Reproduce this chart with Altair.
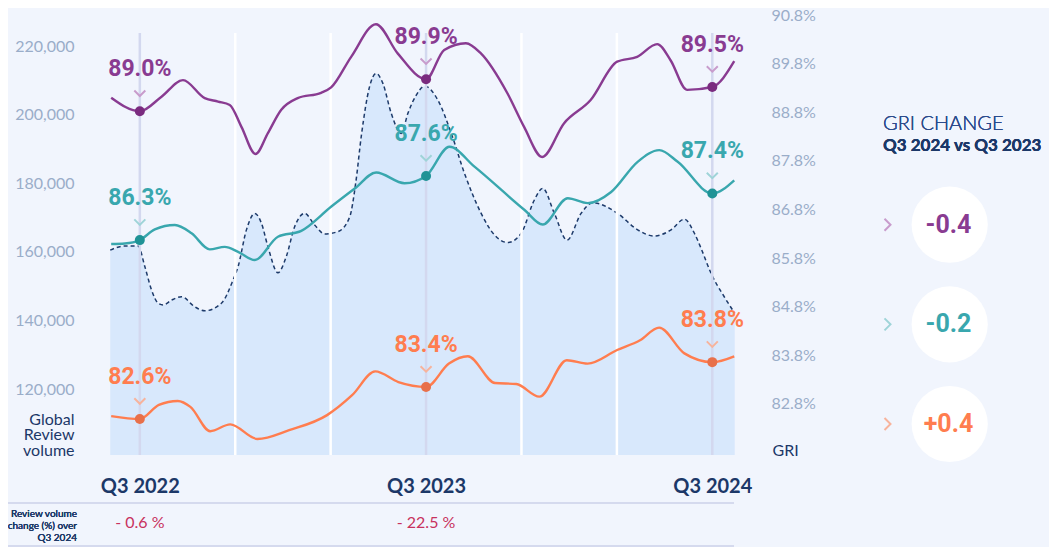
import altair as alt
import pandas as pd

# ---------------- data ----------------
SERIES = ["Segment A", "Segment B", "Segment C"]

# month index: 0 = Q3 2022, 12 = Q3 2023, 24 = Q3 2024
A_M = [-1.2, 0, 0.91, 1.81, 2.72, 3.28, 3.77, 4.26, 4.85, 5.37, 5.93, 6.62, 7.60, 8.02, 8.86, 9.90,
       10.81, 12, 12.76, 13.67, 14.30, 15.41, 16.11, 16.87, 17.78, 18.90, 20.01, 20.85, 21.69, 22.25,
       22.94, 24, 24.92]
A_GRI = [89.10, 88.82, 89.12, 89.46, 89.09, 89.02, 88.95, 88.50, 87.94, 88.37, 88.85, 89.09, 89.20,
         89.31, 89.94, 90.61, 90.01, 89.48, 90.08, 90.22, 90.01, 89.19, 88.50, 87.88, 88.57, 89.05,
         89.84, 89.94, 90.20, 89.87, 89.26, 89.32, 89.85]

B_M = [-1.2, -0.63, 0, 0.63, 1.47, 2.17, 2.93, 3.56, 4.12, 4.82, 5.79, 6.77, 8.03, 9.01, 9.91, 11.10,
       12, 12.98, 14.03, 16.13, 16.89, 17.94, 18.78, 19.76, 20.87, 21.78, 22.55, 24, 24.92]
B_GRI = [86.09, 86.10, 86.17, 86.39, 86.48, 86.31, 85.98, 86.03, 85.93, 85.76, 86.24, 86.36, 86.86,
         87.23, 87.56, 87.34, 87.49, 88.09, 87.68, 86.79, 86.49, 87.03, 86.93, 87.16, 87.78, 88.02,
         87.78, 87.13, 87.40]

C_M = [-1.2, 0, 0.80, 1.59, 2.12, 2.95, 3.79, 4.93, 6.26, 7.85, 8.90, 9.87, 10.84, 12, 12.96, 13.75,
       14.89, 15.78, 16.75, 17.90, 18.77, 20.01, 20.97, 21.77, 22.83, 24, 24.92]
C_GRI = [82.55, 82.49, 82.78, 82.86, 82.74, 82.24, 82.38, 82.08, 82.26, 82.57, 82.98, 83.47, 83.25,
         83.15, 83.63, 83.78, 83.23, 83.21, 82.95, 83.70, 83.63, 83.91, 84.11, 84.37, 83.84, 83.66, 83.78]

VOL_M = [-1.24, -0.63, -0.07, 0.21, 0.49, 0.77, 0.98, 1.33, 1.75, 2.30, 2.72, 3.42, 3.91, 4.12, 4.47,
         4.82, 5.10, 5.37, 5.79, 6.14, 6.49, 6.91, 7.33, 7.75, 8.31, 8.80, 9.05, 9.29, 9.63, 9.91,
         10.19, 10.54, 10.96, 11.24, 11.59, 11.94, 12.49, 13.06, 13.61, 14.31, 14.87, 15.43, 15.99,
         16.54, 16.89, 17.38, 17.91, 18.50, 18.99, 20.03, 20.87, 21.57, 22.27, 22.83, 23.25, 23.53,
         23.95, 24.50, 24.94]
VOL = [160500, 161700, 161700, 155700, 148900, 145000, 144500, 145900, 146900, 144000, 142800, 145000,
       151800, 155700, 166400, 171200, 168300, 161500, 153900, 158600, 167300, 171200, 167800, 165200,
       165900, 170200, 180000, 194000, 208100, 212000, 209100, 200400, 194500, 200400, 205700, 208300,
       204300, 194500, 182900, 171200, 164900, 162700, 165400, 175100, 178500, 171200, 163400, 171200,
       174300, 171200, 166400, 164600, 166400, 169500, 165400, 161000, 153700, 146900, 142100]

Q3_MONTHS = [0, 12, 24]
GRID_MONTHS = [4, 8, 16, 20]
A_LABELS = ["89.0%", "89.9%", "89.5%"]
B_LABELS = ["86.3%", "87.6%", "87.4%"]
C_LABELS = ["82.6%", "83.4%", "83.8%"]
GRI_CHANGE = ["-0.4", "-0.2", "+0.4"]
VOL_CHANGE_MONTHS = [0, 12]
VOL_CHANGE = ["- 0.6 %", "- 22.5 %"]

VOL_TICKS = [120000, 140000, 160000, 180000, 200000, 220000]
GRI_TICKS = [82.8, 83.8, 84.8, 85.8, 86.8, 87.8, 88.8, 89.8, 90.8]

# ---------------- styling ----------------
BG = "#f1f5fd"
AREA = "#d8e8fc"
DASH = "#1d3a6a"
LAV = "#d3d8ef"
AXC = "#9aadc9"
NAVY = "#1c3868"
CRIMSON = "#c8325e"
LINE_COLORS = ["#893b91", "#39a7ae", "#ff7d4f"]
MARK_COLORS = ["#7a2b7f", "#1f9396", "#e8704a"]
CHEV_COLORS = ["#c89ccc", "#9fd4d8", "#f7b39c"]

W, H = 650, 440
X_DOM = [-1.25, 26.0]
GRI_DOM = [81.75, 90.8]
VOL_DOM = [100758, 229040]
GRID_TOP = 90.43

# ---------------- tables ----------------
rows = []
for s, ms, gs in zip(SERIES, [A_M, B_M, C_M], [A_GRI, B_GRI, C_GRI]):
    for m, g in zip(ms, gs):
        rows.append({"s": s, "m": m, "g": g})
lines_df = pd.DataFrame(rows)

ann = []
for s, ms, gs, labs in zip(SERIES, [A_M, B_M, C_M], [A_GRI, B_GRI, C_GRI],
                           [A_LABELS, B_LABELS, C_LABELS]):
    for q, lab in zip(Q3_MONTHS, labs):
        ann.append({"s": s, "m": q, "g": gs[ms.index(q)], "label": lab})
ann_df = pd.DataFrame(ann)

vol_df = pd.DataFrame({"m": VOL_M, "v": VOL})
grid_df = pd.DataFrame({"m": GRID_MONTHS})
q3_df = pd.DataFrame({"m": Q3_MONTHS})
chg_df = pd.DataFrame({"s": SERIES, "chg": GRI_CHANGE})
volchg_df = pd.DataFrame({"m": VOL_CHANGE_MONTHS, "t": VOL_CHANGE})

# ---------------- encodings ----------------
xenc = alt.X(
    "m:Q",
    scale=alt.Scale(domain=X_DOM, nice=False, zero=False),
    axis=alt.Axis(values=Q3_MONTHS, labelExpr="'Q3 ' + (2022 + datum.value / 12)",
                  domain=False, ticks=False, grid=False, labelFont="Lato",
                  labelFontWeight="bold", labelFontSize=20, labelColor=NAVY,
                  labelPadding=21, labelFlush=False, labelOverlap=False, title=None),
)

vol_y = alt.Y(
    "v:Q",
    scale=alt.Scale(domain=VOL_DOM, nice=False, zero=False),
    axis=alt.Axis(values=VOL_TICKS, format=",.0f", domain=False, ticks=False, grid=False,
                  labelFont="Lato", labelFontSize=16, labelColor=AXC, labelPadding=36,
                  title=["Global", "Review", "volume"], titleAngle=0, titleAlign="right",
                  titleBaseline="middle", titleX=-36, titleY=404, titleFont="Lato",
                  titleFontSize=16, titleFontWeight="normal", titleColor=NAVY,
                  titleLineHeight=15.5),
)

gri_y = alt.Y(
    "g:Q",
    scale=alt.Scale(domain=GRI_DOM, nice=False, zero=False),
    axis=alt.Axis(orient="right", values=GRI_TICKS,
                  labelExpr="format(datum.value, '.1f') + '%'", domain=False, ticks=False,
                  grid=False, labelFont="Lato", labelFontSize=16, labelColor=AXC,
                  labelPadding=11, title="GRI", titleAngle=0, titleAlign="left",
                  titleBaseline="middle", titleX=12, titleY=435, titleFont="Lato",
                  titleFontSize=16, titleFontWeight="normal", titleColor=NAVY),
)

color_enc = alt.Color("s:N", scale=alt.Scale(domain=SERIES, range=LINE_COLORS), legend=None)
fill_enc = alt.Fill("s:N", scale=alt.Scale(domain=SERIES, range=MARK_COLORS), legend=None)
stroke_enc = alt.Stroke("s:N", scale=alt.Scale(domain=SERIES, range=CHEV_COLORS), legend=None)

# ---------------- volume layers ----------------
area = alt.Chart(vol_df).mark_area(color=AREA, interpolate="monotone", opacity=1).encode(
    x=xenc, y=vol_y, y2=alt.datum(VOL_DOM[0])
)
dash = alt.Chart(vol_df).mark_line(color=DASH, strokeWidth=1.5, strokeDash=[4, 3],
                                   interpolate="monotone").encode(x=xenc, y=vol_y)
vol_group = alt.layer(area, dash)

# ---------------- GRI layers ----------------
white_rules = alt.Chart(grid_df).mark_rule(color="white", strokeWidth=2.5).encode(
    x=xenc, y=alt.datum(GRID_TOP), y2=alt.datum(GRI_DOM[0])
)
lav_rules = alt.Chart(q3_df).mark_rule(color=LAV, strokeWidth=2.5).encode(
    x=xenc, y=alt.datum(GRID_TOP), y2=alt.datum(GRI_DOM[0])
)
lines = alt.Chart(lines_df).mark_line(strokeWidth=2.4, interpolate="monotone").encode(
    x=xenc, y=gri_y, color=color_enc, detail="s:N"
)
markers = alt.Chart(ann_df).mark_circle(size=100, opacity=1).encode(x=xenc, y=gri_y, fill=fill_enc)
chevs = alt.Chart(ann_df).mark_point(
    shape="M-1,-0.5L0,0.5L1,-0.5", filled=False, size=121, strokeWidth=2, opacity=1, yOffset=-18
).encode(x=xenc, y=gri_y, stroke=stroke_enc)
labels = alt.Chart(ann_df).mark_text(
    font="Roboto", fontWeight="bold", fontSize=23, baseline="middle", dy=-42
).encode(x=xenc, y=gri_y, text="label:N", color=color_enc)
volchg = alt.Chart(volchg_df).mark_text(
    font="Lato", fontSize=16, color=CRIMSON, baseline="middle"
).encode(x=xenc, y=alt.value(508), text="t:N")
gri_group = alt.layer(white_rules, lav_rules, lines, markers, chevs, labels, volchg)

# ---------------- right panel & table decorations ----------------
panel_y = alt.Y("s:N", scale=alt.Scale(type="point", domain=SERIES, range=[209.7, 409.0], padding=0),
                axis=None)
circles = alt.Chart(chg_df).mark_circle(size=5809, color="white", opacity=1).encode(
    x=alt.value(839.7), y=panel_y
)
pchev = alt.Chart(chg_df).mark_point(
    shape="M-0.5,-1L0.5,0L-0.5,1", filled=False, size=144, strokeWidth=2, opacity=1
).encode(x=alt.value(777.5), y=panel_y, stroke=stroke_enc)
ptext = alt.Chart(chg_df).mark_text(
    font="Roboto", fontWeight="bold", fontSize=25, baseline="middle"
).encode(x=alt.value(838.5), y=panel_y, text="chg:N", color=color_enc)

head1 = alt.Chart(chg_df).mark_text(
    text="GRI CHANGE", font="Lato", fontWeight=300, fontSize=20, color="#2b4a8c",
    align="left", baseline="middle"
).encode(x=alt.value(773), y=alt.value(108.5))
head2 = alt.Chart(chg_df).mark_text(
    text="Q3 2024 vs Q3 2023", font="Lato", fontWeight="bold", fontSize=17, color=NAVY,
    align="left", baseline="middle"
).encode(x=alt.value(773), y=alt.value(131))
sep = alt.Chart(chg_df).mark_rule(color="#d5daee", strokeWidth=1.5).encode(
    x=alt.value(-103), x2=alt.value(624), y=alt.value(488)
)
sep2 = alt.Chart(chg_df).mark_rule(color="#d5daee", strokeWidth=1.5).encode(
    x=alt.value(-103), x2=alt.value(624), y=alt.value(531)
)
rowlab = alt.Chart(chg_df).mark_text(
    text=["Review volume", "change (%) over", "Q3 2024"], font="Lato", fontSize=10,
    lineHeight=12.2, color=NAVY, align="right", baseline="middle"
).encode(x=alt.value(-33), y=alt.value(499))
panel_group = alt.layer(circles, pchev, ptext, head1, head2, sep, sep2, rowlab)

chart = (
    alt.layer(vol_group, gri_group, panel_group)
    .resolve_scale(y="independent")
    .properties(
        width=W, height=H,
        padding={"left": 102, "top": 7, "right": 289, "bottom": 92},
        autosize=alt.AutoSizeParams(type="none"),
        background=BG,
    )
    .configure_view(stroke=None)
)

chart.save("out.html", embed_options={"renderer": "svg", "actions": False})
